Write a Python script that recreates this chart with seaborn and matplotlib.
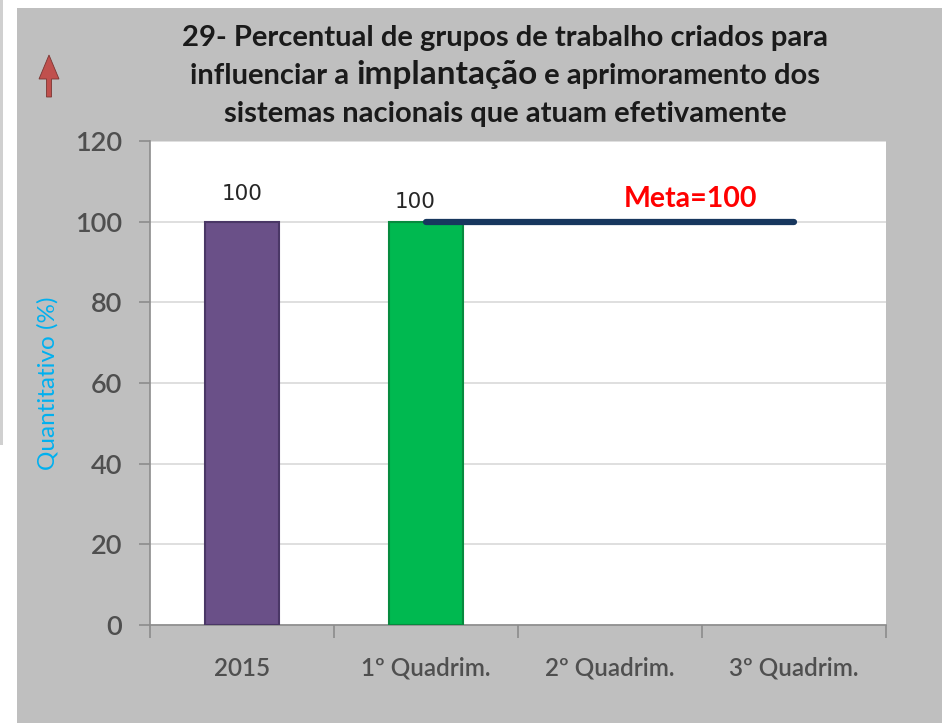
import numpy as np
import pandas as pd
import matplotlib.pyplot as plt
import seaborn as sns
from matplotlib.patches import Rectangle, FancyArrow

# chart data
categories = ["2015", "1º Quadrim.", "2º Quadrim.", "3º Quadrim."]
values = [100, 100, np.nan, np.nan]
bar_colors = ["#6a5088", "#00b950", "#6a5088", "#6a5088"]
edge_colors = ["#4a3766", "#078a3e", "#4a3766", "#4a3766"]
meta_value = 100
meta_span = [1, 3]  # category positions where the target line starts / ends
y_ticks = [0, 20, 40, 60, 80, 100, 120]

sns.set_theme(style="white")
plt.rcParams["font.family"] = ["Lato", "DejaVu Sans"]

W, H = 942, 723
fig = plt.figure(figsize=(W / 100, H / 100), dpi=100, facecolor="white")

# grey chart background with the white margin on the left/top
fig.patches.append(Rectangle((17 / W, 0), 1 - 17 / W, 1 - 8 / H,
                             transform=fig.transFigure, facecolor="#bfbfbf",
                             edgecolor="none", zorder=-10))
fig.patches.append(Rectangle((0, 1 - 445 / H), 3 / W, 445 / H,
                             transform=fig.transFigure, facecolor="#d0d0d0",
                             edgecolor="none", zorder=-10))

ax = fig.add_axes([150 / W, (H - 625) / H, 736 / W, 484 / H])
ax.set_facecolor("white")

df = pd.DataFrame({"periodo": categories, "valor": values})
sns.barplot(data=df, x="periodo", y="valor", hue="periodo", saturation=1,
            palette=bar_colors, width=0.4, legend=False, ax=ax, zorder=3)
for patch, ec in zip(ax.patches, edge_colors):
    patch.set_edgecolor(ec)
    patch.set_linewidth(1.5)

# value labels
label_offsets = [(0, 13), (-8, 7)]
for i, v in enumerate(values):
    if not np.isnan(v):
        dx, dy = label_offsets[i]
        ax.annotate(f"{v:.0f}", (i, v), xytext=(dx, dy), textcoords="offset points",
                    ha="center", va="bottom", fontsize=15.5, color="#262626",
                    family=["DejaVu Sans"], zorder=5)

# target line
ax.plot(meta_span, [meta_value, meta_value], color="#17375e", lw=4.5,
        solid_capstyle="round", zorder=4)
ax.text(2.44, meta_value + 2.5, f"Meta={meta_value}", color="#ff0000",
        fontsize=20.5, fontweight="bold", ha="center", va="bottom", zorder=5)

ax.set_xlim(-0.5, 3.5)
ax.set_ylim(0, 120)
ax.set_yticks(y_ticks)
ax.grid(axis="y", color="#d9d9d9", lw=1.2, zorder=0)
ax.set_xlabel("")
ax.set_ylabel("Quantitativo (%)", color="#00b0f0", fontsize=17.5, labelpad=12)

for s in ["top", "right"]:
    ax.spines[s].set_visible(False)
for s in ["left", "bottom"]:
    ax.spines[s].set_color("#8c8c8c")
    ax.spines[s].set_linewidth(1.2)

ax.tick_params(axis="y", which="major", length=8, width=1.2, color="#8c8c8c",
               labelsize=19.5, labelcolor="#4f4f4f", pad=12, left=True)
for lbl in ax.get_yticklabels():
    lbl.set_fontweight("semibold")
ax.set_xticks(range(len(categories)))
ax.set_xticklabels(categories)
ax.set_xticks(np.arange(-0.5, len(categories), 1.0), minor=True)
ax.tick_params(axis="x", which="major", length=0, labelsize=17.5,
               labelcolor="#4f4f4f", pad=23)
ax.tick_params(axis="x", which="minor", length=9, width=1.2, color="#8c8c8c",
               bottom=True)
for lbl in ax.get_xticklabels():
    lbl.set_fontweight("semibold")

# title, with the bigger word on the second line
title_color = "#1a1a1a"
cx = 505 / W
fs = 21
fig.text(cx, 1 - 38 / H, "29- Percentual de grupos de trabalho criados para",
         ha="center", va="center", fontsize=fs, fontweight="bold", color=title_color)
fig.text(cx, 1 - 114 / H, "sistemas nacionais que atuam efetivamente",
         ha="center", va="center", fontsize=fs, fontweight="bold", color=title_color)
parts = [("influenciar a ", fs), ("implantação", fs + 3), (" e aprimoramento dos", fs)]
renderer = fig.canvas.get_renderer()
texts = [fig.text(0, 1 - 75 / H, t, ha="left", va="baseline", fontsize=s,
                  fontweight="bold", color=title_color) for t, s in parts]
widths = [t.get_window_extent(renderer).width / W for t in texts]
x0 = cx - sum(widths) / 2
base = 1 - 84 / H
for t, w in zip(texts, widths):
    t.set_position((x0, base))
    x0 += w

# red arrow at the top-left
fig.patches.append(FancyArrow(
    49 / W, 1 - 97 / H, 0, 42 / H, width=5 / W, head_width=20 / W,
    head_length=24 / H, length_includes_head=True, transform=fig.transFigure,
    facecolor="#c0504d", edgecolor="#7a3532", lw=0.6))

fig.savefig("out.png", dpi=100, facecolor=fig.get_facecolor())
